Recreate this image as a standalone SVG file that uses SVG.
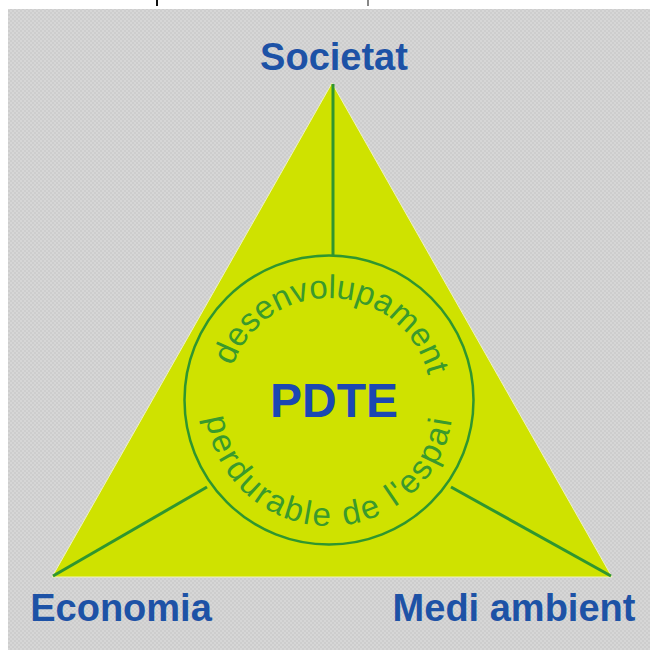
<svg xmlns="http://www.w3.org/2000/svg" width="650" height="650" viewBox="0 0 650 650">
  <defs>
    <style>
      .label { font-family: "Liberation Sans", Arial, sans-serif; font-weight: bold; font-size: 38px; fill: #1d52a6; text-anchor: middle; }
      .core { font-family: "Liberation Sans", Arial, sans-serif; font-weight: bold; font-size: 48px; fill: #1b47b3; text-anchor: middle; }
      .arc { font-family: "Liberation Sans", Arial, sans-serif; font-size: 33px; fill: #3a9a2c; }
      .conn { stroke: #2f962f; stroke-width: 3; fill: none; stroke-linecap: butt; }
    </style>
    <pattern id="dither" width="4" height="4" patternUnits="userSpaceOnUse">
      <rect width="4" height="4" fill="#cdcdcd"/>
      <rect width="2" height="2" fill="#d6d6d6"/>
      <rect x="2" y="2" width="2" height="2" fill="#d6d6d6"/>
    </pattern>
    <path id="topArc" d="M 227,400 A 102,102 0 0,1 431,400"/>
    <path id="botArc" d="M 205,402 A 124,124 0 0,0 453,402"/>
  </defs>

  <rect width="650" height="650" fill="#ffffff"/>
  <rect x="8" y="9" width="642" height="641" fill="url(#dither)"/>
  <rect x="156" y="0" width="2" height="6" fill="#111111"/>
  <rect x="367" y="0" width="2" height="6" fill="#888888"/>

  <g id="triangle">
    <polygon points="332,83 52,577 612,577" fill="#cfe200" stroke="#eef2c0" stroke-width="1"/>
  </g>

  <g id="connectors">
    <line class="conn" x1="333" y1="84" x2="333" y2="256"/>
    <line class="conn" x1="53" y1="576" x2="207" y2="487"/>
    <line class="conn" x1="611" y1="576" x2="451" y2="487"/>
  </g>

  <g id="circle">
    <circle cx="329" cy="400" r="144.5" fill="none" stroke="#2f962f" stroke-width="2.5"/>
    <text class="arc"><textPath href="#topArc" startOffset="51.5%" text-anchor="middle">desenvolupament</textPath></text>
    <text class="arc" letter-spacing="2.5"><textPath href="#botArc" startOffset="50%" text-anchor="middle">perdurable de l'espai</textPath></text>
    <text class="core" x="334" y="417">PDTE</text>
  </g>

  <g id="societat"><text class="label" x="334" y="70">Societat</text></g>
  <g id="economia"><text class="label" x="121" y="621">Economia</text></g>
  <g id="medi-ambient"><text class="label" x="514" y="621">Medi ambient</text></g>
</svg>
